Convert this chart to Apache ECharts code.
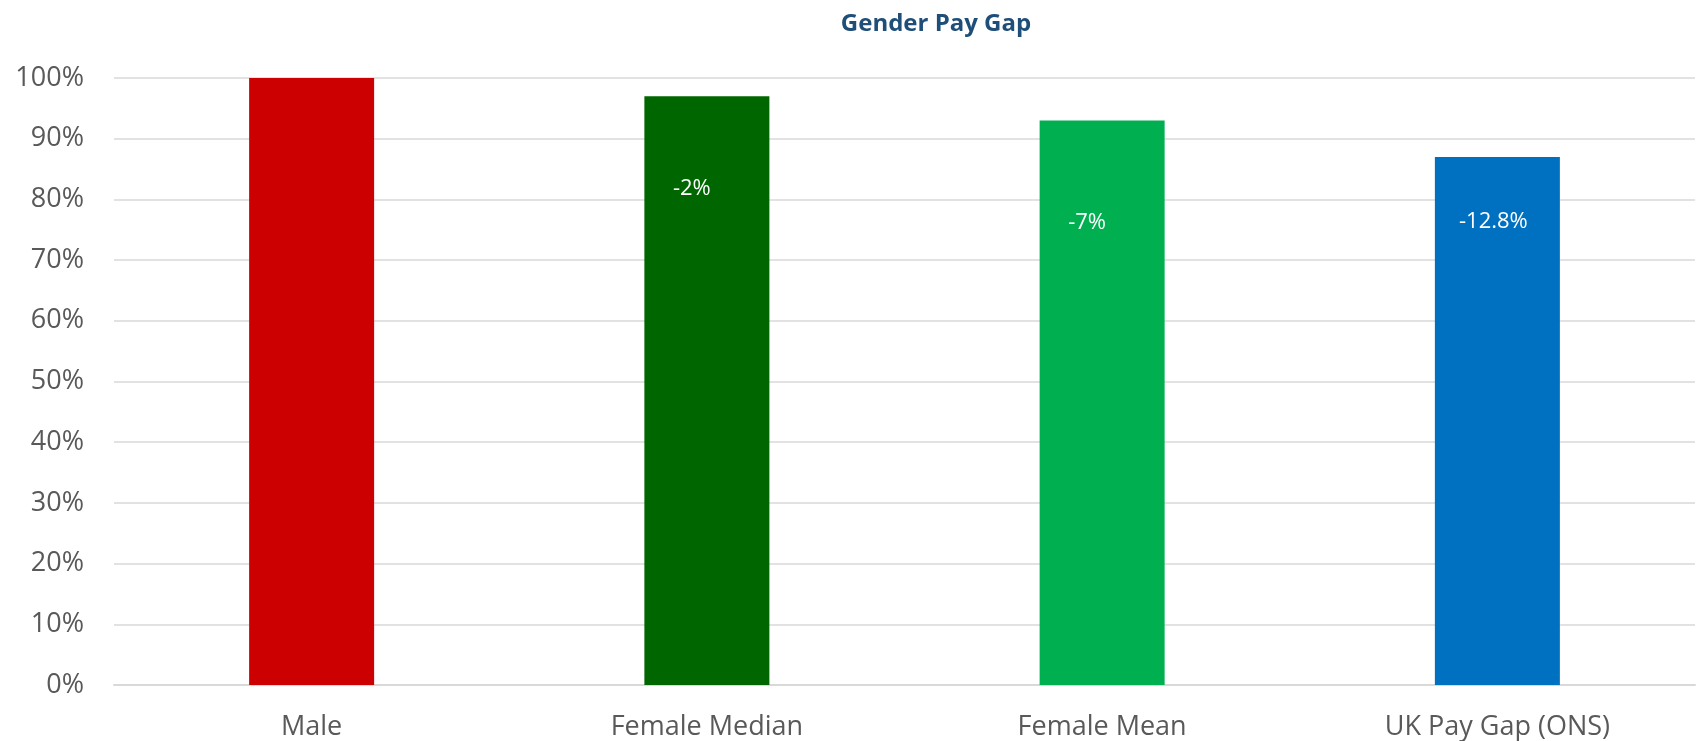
<!DOCTYPE html>
<html>
<head>
<meta charset="utf-8">
<script src="https://cdn.jsdelivr.net/npm/echarts@6/dist/echarts.min.js"></script>
<style>
html,body{margin:0;padding:0;background:#fff;}
#chart{width:1697px;height:741px;}
</style>
</head>
<body>
<div id="chart"></div>
<script>
// Data
const categories = ['Male', 'Female Median', 'Female Mean', 'UK Pay Gap (ONS)'];
const values = [100, 97, 93, 87];
const gapLabels = ['', '-2%', '-7%', '-12.8%'];
const yTicks = [0, 10, 20, 30, 40, 50, 60, 70, 80, 90, 100];

// Styles
const barColors = ['#CC0000', '#006600', '#00B050', '#0070C0'];
const labelDy = [0, 93, 102, 65];
const labelDx = [0, -15, -15, -4];

const chart = echarts.init(document.getElementById('chart'));
const seriesData = values.map((v, i) => ({
  value: v,
  itemStyle: { color: barColors[i] },
  label: {
    show: gapLabels[i] !== '',
    formatter: gapLabels[i],
    position: ['50%', labelDy[i]],
    offset: [labelDx[i], 0],
    align: 'center',
    verticalAlign: 'middle'
  }
}));

chart.setOption({
  animation: false,
  backgroundColor: '#ffffff',
  title: {
    text: 'Gender Pay Gap',
    left: 936,
    textAlign: 'center',
    top: 12,
    padding: 0,
    textStyle: {
      fontFamily: 'Open Sans',
      fontWeight: 'bold',
      fontSize: 24,
      color: '#1F4E79'
    }
  },
  grid: { left: 114, right: 2, top: 78, bottom: 56, containLabel: false },
  xAxis: {
    type: 'category',
    data: categories,
    axisTick: { show: false },
    axisLine: { lineStyle: { color: '#D9D9D9', width: 2 } },
    axisLabel: {
      fontFamily: 'Open Sans',
      fontSize: 27,
      color: '#595959',
      margin: 29
    }
  },
  yAxis: {
    type: 'value',
    min: yTicks[0],
    max: yTicks[yTicks.length - 1],
    interval: 10,
    axisLine: { show: false },
    axisTick: { show: false },
    splitLine: { lineStyle: { color: '#D9D9D9', width: 1.5 } },
    axisLabel: {
      formatter: '{value}%',
      fontFamily: 'Open Sans',
      fontSize: 27,
      color: '#595959',
      margin: 30
    }
  },
  series: [{
    type: 'bar',
    data: seriesData,
    barWidth: 125,
    label: {
      color: '#ffffff',
      fontFamily: 'Open Sans',
      fontSize: 22
    }
  }]
});
</script>
</body>
</html>
